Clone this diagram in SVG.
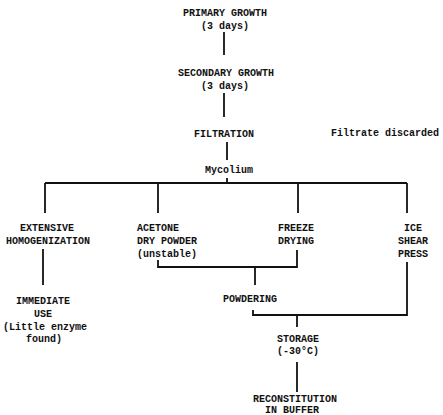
<svg xmlns="http://www.w3.org/2000/svg" width="443" height="415" viewBox="0 0 443 415">
<style>
text{font-family:"Liberation Mono","DejaVu Sans Mono",monospace;font-size:10px;font-weight:bold;fill:#111;text-anchor:middle}
.l{text-anchor:start}
#connectors path,#connectors line{stroke:#111;stroke-width:1.8;fill:none}
</style>
<rect width="443" height="415" fill="#fff"/>
<g id="connectors">
<line x1="224" y1="32" x2="224" y2="55"/>
<line x1="224" y1="93" x2="224" y2="117"/>
<line x1="227" y1="142" x2="227" y2="160"/>
<line x1="227" y1="178" x2="227" y2="183"/>
<line x1="45" y1="183" x2="407" y2="183"/>
<line x1="45" y1="183" x2="45" y2="213"/>
<line x1="158" y1="183" x2="158" y2="213"/>
<line x1="298" y1="183" x2="298" y2="213"/>
<line x1="407" y1="183" x2="407" y2="213"/>
<line x1="43" y1="249" x2="43" y2="285"/>
<path d="M158 260V267H297V250"/>
<line x1="255" y1="267" x2="255" y2="285"/>
<path d="M253 310V315H407V262"/>
<line x1="297" y1="316" x2="297" y2="327"/>
<line x1="297" y1="362" x2="297" y2="392"/>
</g>
<g id="primary"><text x="225" y="16">PRIMARY GROWTH</text><text x="225" y="29">(3 days)</text></g>
<g id="secondary"><text x="226" y="76">SECONDARY GROWTH</text><text x="225" y="89">(3 days)</text></g>
<g id="filtration"><text x="224" y="137">FILTRATION</text></g>
<g id="filtrate"><text x="385" y="136">Filtrate discarded</text></g>
<g id="mycelium"><text x="229" y="173">Mycolium</text></g>
<g id="homogenization"><text x="47" y="231">EXTENSIVE</text><text x="48" y="244">HOMOGENIZATION</text></g>
<g id="acetone"><text class="l" x="137" y="231">ACETONE</text><text class="l" x="137" y="244">DRY POWDER</text><text class="l" x="137" y="257">(unstable)</text></g>
<g id="freeze"><text x="296" y="231">FREEZE</text><text x="296" y="244">DRYING</text></g>
<g id="ice"><text x="413" y="231">ICE</text><text x="413" y="244">SHEAR</text><text x="413" y="257">PRESS</text></g>
<g id="immediate"><text x="43" y="304">IMMEDIATE</text><text x="43" y="317">USE</text><text x="45" y="330">(Little enzyme</text><text x="44" y="342">found)</text></g>
<g id="powdering"><text x="250" y="302">POWDERING</text></g>
<g id="storage"><text x="298" y="342">STORAGE</text><text x="298" y="354">(-30°C)</text></g>
<g id="reconstitution"><text x="295" y="402">RECONSTITUTION</text><text x="292" y="413">IN BUFFER</text></g>
</svg>
